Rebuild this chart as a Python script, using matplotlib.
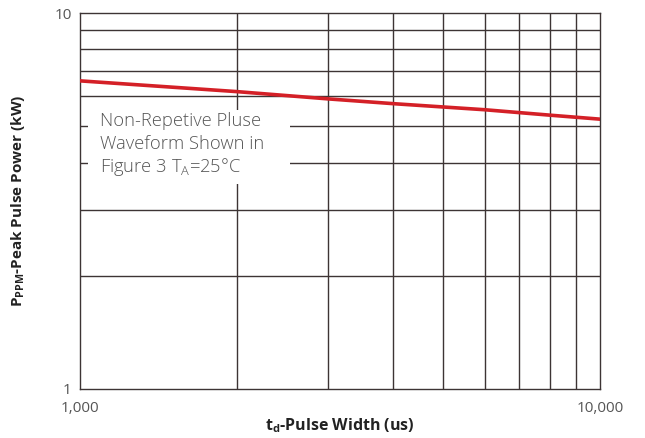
import matplotlib.pyplot as plt
from matplotlib.patches import Rectangle

# pulse width (us) vs peak pulse power (kW)
pulseWidth = [1000, 2000, 3000, 4000, 6000, 8000, 10000]
peakPower = [6.6, 6.18, 5.91, 5.74, 5.53, 5.35, 5.22]

xTicks = [1000, 10000]
xTickLabels = ['1,000', '10,000']
yTicks = [1, 10]
yTickLabels = ['1', '10']

noteLines = ['Non-Repetive Pluse', 'Waveform Shown in', r'Figure 3 T$_\mathregular{A}$=25°C']

plt.rcParams['font.family'] = ['Open Sans', 'DejaVu Sans']

fig = plt.figure(figsize=(6.45, 4.38), dpi=100)
ax = fig.add_axes([80/645, 1-389/438, 520/645, 376/438])

ax.set_xscale('log')
ax.set_yscale('log')
ax.set_xlim(1000, 10000)
ax.set_ylim(1, 10)

gridCol = '#3d3434'
for v in range(2000, 10000, 1000):
    ax.axvline(v, color=gridCol, lw=1.0, zorder=1)
for v in range(2, 10):
    ax.axhline(v, color=gridCol, lw=1.0, zorder=1)
for s in ax.spines.values():
    s.set_color(gridCol)
    s.set_linewidth(1.0)

ax.plot(pulseWidth, peakPower, color='#d42027', lw=2.6, zorder=3)

# white note box over the grid
fig.patches.append(Rectangle((88/645, 1-184/438), 202/645, 74/438,
                             transform=fig.transFigure, facecolor='white',
                             edgecolor='none', zorder=2))
for i, line in enumerate(noteLines):
    fig.text(100/645, 1-(121 + i*23)/438, line, fontsize=13.2, color='#555555',
             va='center', ha='left', fontweight='light')

ax.set_xticks(xTicks)
ax.set_xticklabels(xTickLabels)
ax.set_yticks(yTicks)
ax.set_yticklabels(yTickLabels)
ax.minorticks_off()
ax.tick_params(length=0, labelsize=11, labelcolor='#555555')
ax.tick_params(axis='x', pad=9)
ax.tick_params(axis='y', pad=6)

ax.set_xlabel(r't$_\mathregular{d}$-Pulse Width (us)', fontsize=11.5, fontweight='bold',
              color='#222222', labelpad=0)
ax.set_ylabel(r'P$_\mathregular{PPM}$-Peak Pulse Power (kW)', fontsize=11,
              fontweight='bold', color='#222222', labelpad=20)

fig.savefig('out.png', dpi=100)
